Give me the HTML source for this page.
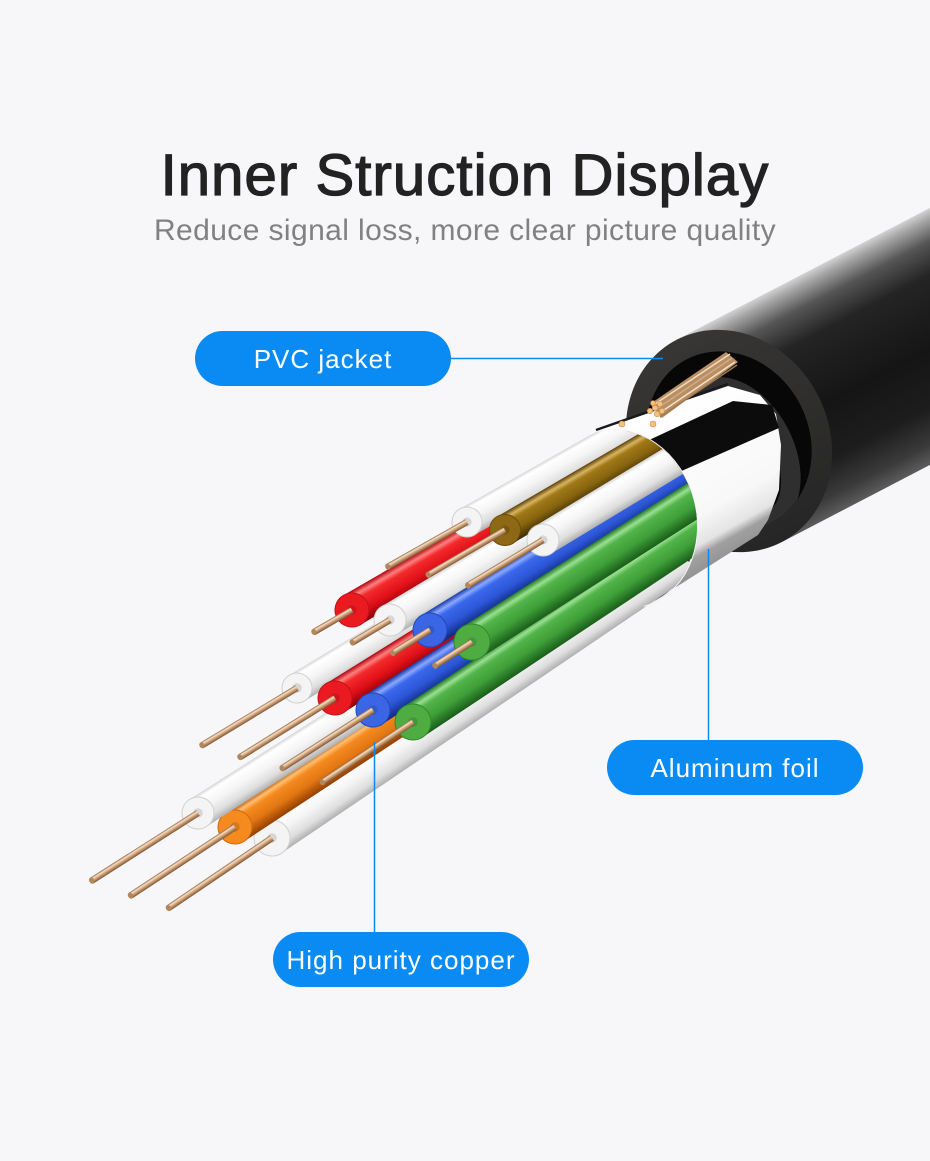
<!DOCTYPE html>
<html>
<head>
<meta charset="utf-8">
<style>
  html,body{margin:0;padding:0;background:#f7f7fa;}
  svg{display:block;}
</style>
</head>
<body>
<svg width="930" height="1161" viewBox="0 0 930 1161" xmlns="http://www.w3.org/2000/svg">
  <defs>
    <linearGradient id="gJ" x1="0" y1="0" x2="0" y2="1">
      <stop offset="0" stop-color="#d2d2d4"/>
      <stop offset="0.04" stop-color="#a6a6a6"/>
      <stop offset="0.13" stop-color="#555"/>
      <stop offset="0.26" stop-color="#242424"/>
      <stop offset="0.55" stop-color="#151515"/>
      <stop offset="0.78" stop-color="#1d1d1d"/>
      <stop offset="0.92" stop-color="#3a3a3a"/>
      <stop offset="1" stop-color="#5c5c5c"/>
    </linearGradient>
    <linearGradient id="gFace" x1="0" y1="0" x2="0" y2="1">
      <stop offset="0" stop-color="#383634"/>
      <stop offset="1" stop-color="#262626"/>
    </linearGradient>
    <linearGradient id="gFoil" gradientUnits="userSpaceOnUse" x1="680" y1="400" x2="770" y2="560">
      <stop offset="0" stop-color="#ffffff"/>
      <stop offset="0.6" stop-color="#f8f8f8"/>
      <stop offset="0.74" stop-color="#e4e4e4"/>
      <stop offset="0.79" stop-color="#a0a0a0"/>
      <stop offset="0.92" stop-color="#8c8c8c"/>
      <stop offset="1" stop-color="#6e6e6e"/>
    </linearGradient>
    <linearGradient id="gW" x1="0" y1="0" x2="0" y2="1">
      <stop offset="0" stop-color="#d4d4d4"/>
      <stop offset="0.12" stop-color="#ffffff"/>
      <stop offset="0.45" stop-color="#f5f5f5"/>
      <stop offset="0.78" stop-color="#dedede"/>
      <stop offset="1" stop-color="#b0b0b0"/>
    </linearGradient>
    <linearGradient id="gR" x1="0" y1="0" x2="0" y2="1">
      <stop offset="0" stop-color="#b0000c"/>
      <stop offset="0.16" stop-color="#ff8080"/>
      <stop offset="0.3" stop-color="#f22a2a"/>
      <stop offset="0.65" stop-color="#e01018"/>
      <stop offset="1" stop-color="#8c0008"/>
    </linearGradient>
    <linearGradient id="gB" x1="0" y1="0" x2="0" y2="1">
      <stop offset="0" stop-color="#1838a8"/>
      <stop offset="0.16" stop-color="#8aa8ff"/>
      <stop offset="0.3" stop-color="#3a68ec"/>
      <stop offset="0.65" stop-color="#2c56d6"/>
      <stop offset="1" stop-color="#102a80"/>
    </linearGradient>
    <linearGradient id="gG" x1="0" y1="0" x2="0" y2="1">
      <stop offset="0" stop-color="#247a24"/>
      <stop offset="0.16" stop-color="#9ae090"/>
      <stop offset="0.3" stop-color="#52b44a"/>
      <stop offset="0.65" stop-color="#3e9e38"/>
      <stop offset="1" stop-color="#1a5e1a"/>
    </linearGradient>
    <linearGradient id="gBr" x1="0" y1="0" x2="0" y2="1">
      <stop offset="0" stop-color="#5a3e06"/>
      <stop offset="0.16" stop-color="#d8b460"/>
      <stop offset="0.3" stop-color="#a07818"/>
      <stop offset="0.65" stop-color="#86640e"/>
      <stop offset="1" stop-color="#3e2c04"/>
    </linearGradient>
    <linearGradient id="gO" x1="0" y1="0" x2="0" y2="1">
      <stop offset="0" stop-color="#b05000"/>
      <stop offset="0.16" stop-color="#ffbe70"/>
      <stop offset="0.3" stop-color="#f58a20"/>
      <stop offset="0.65" stop-color="#e27612"/>
      <stop offset="1" stop-color="#944000"/>
    </linearGradient>
    <linearGradient id="gCu" x1="0" y1="0" x2="0" y2="1">
      <stop offset="0" stop-color="#8c6040"/>
      <stop offset="0.25" stop-color="#f6e0c6"/>
      <stop offset="0.5" stop-color="#d8ac82"/>
      <stop offset="1" stop-color="#7e5434"/>
    </linearGradient>
    <clipPath id="holeClip"><ellipse cx="0" cy="0" rx="80" ry="92"/></clipPath>
    <clipPath id="farHalf"><polygon points="481,0 930,0 930,1161 792,1161"/></clipPath>
    <clipPath id="wclip">
      <polygon points="0,0 481,0 792,1161 0,1161"/>
      <ellipse cx="620" cy="519" rx="76" ry="90" transform="rotate(-15 620 519)"/>
    </clipPath>
  </defs>

  <rect width="930" height="1161" fill="#f7f7fa"/>

  <!-- Title -->
  <text x="465" y="195" text-anchor="middle" font-family="'Liberation Sans', Arial, sans-serif" font-size="58" letter-spacing="1.1" fill="#222" stroke="#222" stroke-width="1.3">Inner Struction Display</text>
  <text x="465" y="240" text-anchor="middle" font-family="'Liberation Sans', Arial, sans-serif" font-size="30" letter-spacing="0.4" fill="#818181">Reduce signal loss, more clear picture quality</text>

  <!-- Jacket -->
  <g transform="translate(729,441) rotate(-27.5)">
    <rect x="0" y="-114" width="420" height="228" fill="url(#gJ)"/>
    <ellipse cx="0" cy="0" rx="100" ry="114" fill="url(#gFace)"/>
    <ellipse cx="0" cy="0" rx="80" ry="92" fill="#070707"/>
    <g clip-path="url(#holeClip)">
      <ellipse cx="2" cy="16" rx="56" ry="82" fill="#2f2f2f"/>
      <ellipse cx="2" cy="16" rx="35" ry="64" fill="#060606"/>
    </g>
  </g>

  <!-- Foil -->
  <path d="M590,433 L728,386 L760,395 L776,414 L781,445 L779,490 L768,520 L758,535 L640,610 Z" fill="url(#gFoil)"/>
  <path d="M647,441 L733,401 L772,405 L779,428 L677,473 Z" fill="#0c0c0c"/>
  <path d="M596,430 L728,384" stroke="#1a1a1a" stroke-width="2.5" fill="none"/>
  <g clip-path="url(#farHalf)">
    <ellipse cx="620" cy="519" rx="76" ry="90" transform="rotate(-15 620 519)" fill="#262626" stroke="#f2f2f2" stroke-width="2"/>
  </g>

  <!-- Braid -->
  <path d="M650,404 L726,352 L738,362 L662,418 Z" fill="#b88e64"/>
  <path d="M652,406 L730,354" stroke="#f0dcc0" stroke-width="1.5"/>
  <path d="M655,410 L732,358" stroke="#d2ac80" stroke-width="1.5"/>
  <path d="M658,414 L735,362" stroke="#f3e2c8" stroke-width="1.5"/>
  <path d="M660,417 L737,365" stroke="#a07850" stroke-width="1.5"/>
  <g fill="#f2c27e" stroke="#c98c46" stroke-width="0.6">
    <circle cx="655" cy="408" r="2.7"/>
    <circle cx="660" cy="404" r="2.7"/>
    <circle cx="662" cy="411" r="2.7"/>
    <circle cx="657" cy="414" r="2.7"/>
    <circle cx="650" cy="411" r="2.7"/>
    <circle cx="653" cy="403" r="2.4"/>
    <circle cx="622" cy="424" r="3"/>
    <circle cx="653" cy="424" r="3"/>
  </g>

  <!-- Wires -->
  <g clip-path="url(#wclip)">
    <!-- N white -->
    <g transform="translate(272,838) rotate(-34.1)">
      <rect x="0" y="-18" width="500" height="36" fill="url(#gW)"/>
      <circle r="18" fill="#f4f4f4" stroke="#d0d0d0"/>
      <circle r="4.8" fill="#000" opacity="0.12"/>
      <rect x="-125" y="-3.3" width="125" height="6.6" fill="url(#gCu)"/>
      <ellipse cx="-125" rx="2.5" ry="3.3" fill="#b4865c"/>
    </g>
    <!-- M orange -->
    <g transform="translate(235,827) rotate(-33.3)">
      <rect x="0" y="-17" width="500" height="34" fill="url(#gO)"/>
      <circle r="17" fill="#f58a1e" stroke="#d06a0c"/>
      <circle r="4.8" fill="#000" opacity="0.12"/>
      <rect x="-125" y="-3.3" width="125" height="6.6" fill="url(#gCu)"/>
      <ellipse cx="-125" rx="2.5" ry="3.3" fill="#b4865c"/>
    </g>
    <!-- L white -->
    <g transform="translate(198,813) rotate(-32.5)">
      <rect x="0" y="-16" width="500" height="32" fill="url(#gW)"/>
      <circle r="16" fill="#f4f4f4" stroke="#d0d0d0"/>
      <circle r="4.8" fill="#000" opacity="0.12"/>
      <rect x="-126" y="-3.3" width="126" height="6.6" fill="url(#gCu)"/>
      <ellipse cx="-126" rx="2.5" ry="3.3" fill="#b4865c"/>
    </g>
    <!-- H white -->
    <g transform="translate(297,688) rotate(-31.1)">
      <rect x="0" y="-15" width="500" height="30" fill="url(#gW)"/>
      <circle r="15" fill="#f4f4f4" stroke="#d0d0d0"/>
      <circle r="4.8" fill="#000" opacity="0.12"/>
      <rect x="-111" y="-3.2" width="111" height="6.4" fill="url(#gCu)"/>
      <ellipse cx="-111" rx="2.5" ry="3.2" fill="#b4865c"/>
    </g>
    <!-- I red -->
    <g transform="translate(335,698) rotate(-31.9)">
      <rect x="0" y="-17" width="500" height="34" fill="url(#gR)"/>
      <circle r="17" fill="#ea1a20" stroke="#c0101a"/>
      <circle r="4.8" fill="#000" opacity="0.12"/>
      <rect x="-112" y="-3.2" width="112" height="6.4" fill="url(#gCu)"/>
      <ellipse cx="-112" rx="2.5" ry="3.2" fill="#b4865c"/>
    </g>
    <!-- J blue -->
    <g transform="translate(373,710) rotate(-32.7)">
      <rect x="0" y="-17" width="500" height="34" fill="url(#gB)"/>
      <circle r="17" fill="#3a66e6" stroke="#2448b8"/>
      <circle r="4.8" fill="#000" opacity="0.12"/>
      <rect x="-108" y="-3.2" width="108" height="6.4" fill="url(#gCu)"/>
      <ellipse cx="-108" rx="2.5" ry="3.2" fill="#b4865c"/>
    </g>
    <!-- K green -->
    <g transform="translate(413,722) rotate(-33.6)">
      <rect x="0" y="-18" width="500" height="36" fill="url(#gG)"/>
      <circle r="18" fill="#4eac42" stroke="#2e8a2a"/>
      <circle r="4.8" fill="#000" opacity="0.12"/>
      <rect x="-109" y="-3.2" width="109" height="6.4" fill="url(#gCu)"/>
      <ellipse cx="-109" rx="2.5" ry="3.2" fill="#b4865c"/>
    </g>
    <!-- D red -->
    <g transform="translate(352,610) rotate(-30.1)">
      <rect x="0" y="-17" width="500" height="34" fill="url(#gR)"/>
      <circle r="17" fill="#ea1a20" stroke="#c0101a"/>
      <circle r="4.6" fill="#000" opacity="0.12"/>
      <rect x="-44" y="-3.2" width="44" height="6.4" fill="url(#gCu)"/>
      <ellipse cx="-44" rx="2.5" ry="3.2" fill="#b4865c"/>
    </g>
    <!-- E white -->
    <g transform="translate(390,620) rotate(-30.9)">
      <rect x="0" y="-16" width="500" height="32" fill="url(#gW)"/>
      <circle r="16" fill="#f4f4f4" stroke="#d0d0d0"/>
      <circle r="4.6" fill="#000" opacity="0.12"/>
      <rect x="-44" y="-3.2" width="44" height="6.4" fill="url(#gCu)"/>
      <ellipse cx="-44" rx="2.5" ry="3.2" fill="#b4865c"/>
    </g>
    <!-- F blue -->
    <g transform="translate(430,630) rotate(-31.7)">
      <rect x="0" y="-17" width="500" height="34" fill="url(#gB)"/>
      <circle r="17" fill="#3a66e6" stroke="#2448b8"/>
      <circle r="4.6" fill="#000" opacity="0.12"/>
      <rect x="-44" y="-3.2" width="44" height="6.4" fill="url(#gCu)"/>
      <ellipse cx="-44" rx="2.5" ry="3.2" fill="#b4865c"/>
    </g>
    <!-- G green -->
    <g transform="translate(472,642) rotate(-32.6)">
      <rect x="0" y="-18" width="500" height="36" fill="url(#gG)"/>
      <circle r="18" fill="#4eac42" stroke="#2e8a2a"/>
      <circle r="4.6" fill="#000" opacity="0.12"/>
      <rect x="-44" y="-3.2" width="44" height="6.4" fill="url(#gCu)"/>
      <ellipse cx="-44" rx="2.5" ry="3.2" fill="#b4865c"/>
    </g>
    <!-- A white -->
    <g transform="translate(467,522) rotate(-29.5)">
      <rect x="0" y="-15" width="500" height="30" fill="url(#gW)"/>
      <circle r="15" fill="#f4f4f4" stroke="#d0d0d0"/>
      <circle r="4.6" fill="#000" opacity="0.12"/>
      <rect x="-91" y="-3.2" width="91" height="6.4" fill="url(#gCu)"/>
      <ellipse cx="-91" rx="2.5" ry="3.2" fill="#b4865c"/>
    </g>
    <!-- B brown -->
    <g transform="translate(505,530) rotate(-30.3)">
      <rect x="0" y="-15.5" width="500" height="31" fill="url(#gBr)"/>
      <circle r="15.5" fill="#8e6814" stroke="#6a4c0c"/>
      <circle r="4.6" fill="#000" opacity="0.15"/>
      <rect x="-89" y="-3.2" width="89" height="6.4" fill="url(#gCu)"/>
      <ellipse cx="-89" rx="2.5" ry="3.2" fill="#b4865c"/>
    </g>
    <!-- C white -->
    <g transform="translate(543,540) rotate(-31.2)">
      <rect x="0" y="-16" width="500" height="32" fill="url(#gW)"/>
      <circle r="16" fill="#f4f4f4" stroke="#d0d0d0"/>
      <circle r="4.6" fill="#000" opacity="0.12"/>
      <rect x="-88" y="-3.2" width="88" height="6.4" fill="url(#gCu)"/>
      <ellipse cx="-88" rx="2.5" ry="3.2" fill="#b4865c"/>
    </g>
  </g>

  <!-- Connectors -->
  <g stroke="#0a8bf4" stroke-width="1.5" fill="none">
    <path d="M451,358.5 L663,358.5"/>
    <path d="M708.5,549 L708.5,740"/>
    <path d="M374.5,742 L374.5,932"/>
  </g>

  <!-- Pills -->
  <g font-family="'Liberation Sans', Arial, sans-serif" font-size="26" letter-spacing="1" fill="#ffffff" text-anchor="middle">
    <rect x="195" y="331" width="256" height="55" rx="27.5" fill="#0a8bf4"/>
    <text x="323" y="368">PVC jacket</text>
    <rect x="607" y="740" width="256" height="55" rx="27.5" fill="#0a8bf4"/>
    <text x="735" y="777">Aluminum foil</text>
    <rect x="273" y="932" width="256" height="55" rx="27.5" fill="#0a8bf4"/>
    <text x="401" y="969">High purity copper</text>
  </g>
</svg>
</body>
</html>
